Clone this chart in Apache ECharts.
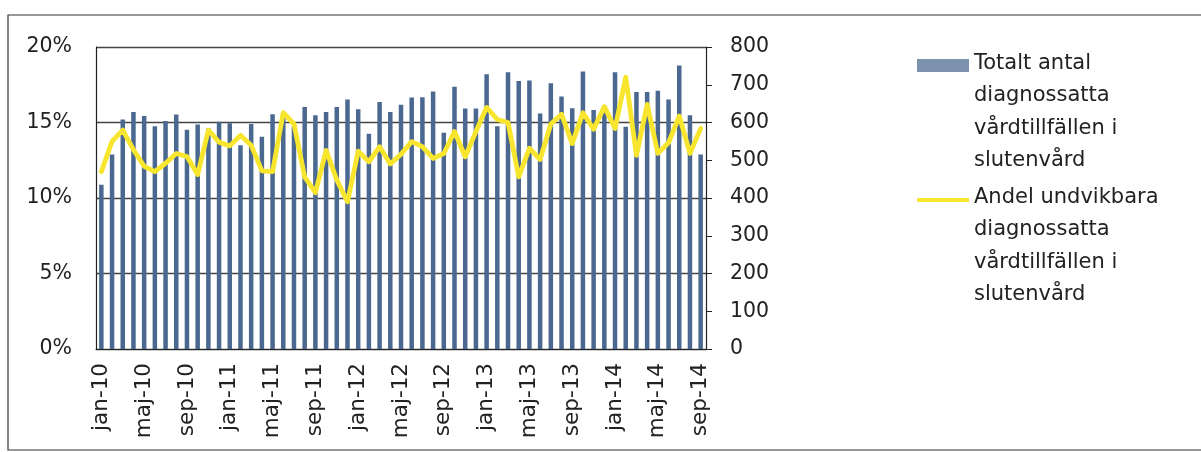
<!DOCTYPE html>
<html>
<head>
<meta charset="utf-8">
<script src="https://cdn.jsdelivr.net/npm/echarts@6/dist/echarts.min.js"></script>
<style>
    html, body { margin: 0; padding: 0; background: #fff; }
    #chart { width: 1201px; height: 452px; }
</style>
</head>
<body>
<div id="chart"></div>
<script>
// månader jan-10 .. sep-14
const monthNames = ['jan', 'feb', 'mar', 'apr', 'maj', 'jun', 'jul', 'aug', 'sep', 'okt', 'nov', 'dec'];
const months = [];
for (let y = 10; y <= 14; y++) {
    for (let m = 0; m < 12; m++) {
        if (y === 14 && m > 8) break;
        months.push(monthNames[m] + '-' + y);
    }
}

// Totalt antal diagnossatta vårdtillfällen i slutenvård (höger axel)
const totalCount = [
    435, 515, 608, 628, 617, 590, 604, 621, 581, 595, 585, 602,
    598, 540, 596, 562, 622, 620, 590, 641, 619, 628, 641, 661,
    635, 570, 654, 628, 647, 666, 667, 682, 573, 695, 637, 637,
    728, 590, 733, 710, 711, 624, 704, 669, 638, 735, 633, 646,
    733, 589, 681, 681, 684, 661, 751, 619, 515
];

// Andel undvikbara (%) (vänster axel)
const avoidableShare = [
    11.75, 13.75, 14.5, 13.2, 12.1, 11.75, 12.3, 12.95, 12.75, 11.55, 14.5, 13.7,
    13.45, 14.15, 13.5, 11.8, 11.75, 15.65, 14.9, 11.4, 10.35, 13.15, 11.2, 9.75,
    13.1, 12.4, 13.4, 12.25, 12.9, 13.73, 13.4, 12.62, 12.95, 14.4, 12.73, 14.4,
    16.0, 15.2, 15.0, 11.4, 13.3, 12.55, 14.9, 15.55, 13.6, 15.65, 14.55, 16.05,
    14.6, 18.0, 12.82, 16.2, 12.96, 13.66, 15.43, 12.95, 14.6
];

const leftTicks = { min: 0, max: 20, interval: 5 };
const rightTicks = { min: 0, max: 800, interval: 100 };

const barName = 'Totalt antal\ndiagnossatta\nvårdtillfällen i\nslutenvård';
const lineName = 'Andel undvikbara\ndiagnossatta\nvårdtillfällen i\nslutenvård';

const FONT = '"DejaVu Sans", "Open Sans", sans-serif';
const LH = 32.5;

// ikonerna spänner hela textblockets höjd så att symbolen hamnar vid första raden
const barIcon = 'path://M0,12L52,12L52,25L0,25Z M0,0L0.01,0 M0,130L0.01,130';
const lineIcon = 'path://M0,17L52,17L52,21L0,21Z M0,0L0.01,0 M0,130L0.01,130';

const chart = echarts.init(document.getElementById('chart'), null, { renderer: 'canvas' });
chart.setOption({
    animation: false,
    backgroundColor: '#fff',
    textStyle: { fontFamily: FONT },
    graphic: [
        {
            type: 'rect',
            shape: { x: 8, y: 15, width: 1240, height: 435 },
            style: { fill: 'none', stroke: '#333', lineWidth: 1.2 },
            z: -1
        }
    ],
    grid: { left: 96, right: 495, top: 47, bottom: 103, containLabel: false },
    legend: {
        orient: 'vertical',
        left: 917,
        top: 47,
        padding: 0,
        itemGap: 4,
        itemWidth: 52,
        itemHeight: 130,
        data: [
            { name: barName, icon: barIcon, itemStyle: { color: '#7d92ad', borderWidth: 0 } },
            { name: lineName, icon: lineIcon, itemStyle: { color: '#f7e52e', borderWidth: 0 } }
        ],
        textStyle: {
            fontFamily: FONT,
            fontSize: 21,
            color: '#222',
            lineHeight: LH
        }
    },
    xAxis: {
        type: 'category',
        data: months,
        boundaryGap: true,
        axisLine: { lineStyle: { color: '#222', width: 1.2 } },
        axisTick: { show: false },
        axisLabel: {
            interval: 3,
            rotate: 90,
            margin: 14,
            fontSize: 21.5,
            color: '#222',
            fontFamily: FONT
        }
    },
    yAxis: [
        {
            type: 'value',
            min: leftTicks.min,
            max: leftTicks.max,
            interval: leftTicks.interval,
            position: 'left',
            axisLine: { show: true, lineStyle: { color: '#222', width: 1.2 } },
            axisTick: { show: false },
            axisLabel: {
                formatter: '{value}%',
                margin: 24,
                fontSize: 20.5,
                color: '#222',
                fontFamily: FONT
            },
            splitLine: { show: true, lineStyle: { color: '#444', width: 1.3 } }
        },
        {
            type: 'value',
            min: rightTicks.min,
            max: rightTicks.max,
            interval: rightTicks.interval,
            position: 'right',
            axisLine: { show: true, lineStyle: { color: '#222', width: 1.2 } },
            axisTick: { show: true, inside: false, length: 6, lineStyle: { color: '#222' } },
            axisLabel: {
                margin: 24,
                fontSize: 20.5,
                color: '#222',
                fontFamily: FONT
            },
            splitLine: { show: false }
        }
    ],
    series: [
        {
            name: barName,
            type: 'bar',
            yAxisIndex: 1,
            data: totalCount,
            barWidth: 4.5,
            itemStyle: { color: '#4a6890' },
            z: 2
        },
        {
            name: lineName,
            type: 'line',
            yAxisIndex: 0,
            data: avoidableShare,
            symbol: 'none',
            lineStyle: { color: '#f7e52e', width: 4.8, cap: 'round', join: 'round' },
            itemStyle: { color: '#f7e52e' },
            z: 3
        }
    ]
});
</script>
</body>
</html>
